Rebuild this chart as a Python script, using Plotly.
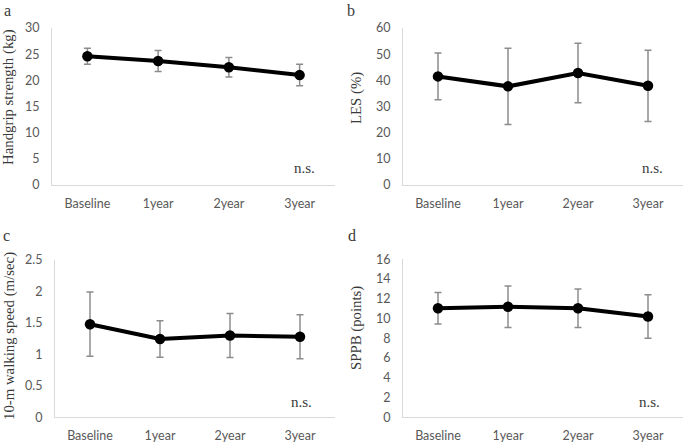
import plotly.graph_objects as go

W, H = 685, 443

categories = ["Baseline", "1year", "2year", "3year"]

grip_mean = [24.6, 23.7, 22.5, 21.0]
grip_sd = [1.55, 2.0, 1.85, 2.05]

les_mean = [41.5, 37.7, 42.8, 37.9]
les_sd = [8.9, 14.6, 11.4, 13.6]

walk_mean = [1.48, 1.245, 1.30, 1.28]
walk_sd = [0.51, 0.29, 0.35, 0.35]

sppb_mean = [11.05, 11.2, 11.05, 10.2]
sppb_sd = [1.6, 2.1, 1.95, 2.2]

panels = [
    dict(mean=grip_mean, sd=grip_sd, title="Handgrip strength (kg)", letter="a",
         rng=[0, 30], dtick=5, xdom=(52, 335), ydom=(28, 185),
         title_pos=(9, 97), letter_pos=(7, 11), ns_pos=(304, 168)),
    dict(mean=les_mean, sd=les_sd, title="LES (%)", letter="b",
         rng=[0, 60], dtick=10, xdom=(403, 683), ydom=(28, 185),
         title_pos=(356, 98), letter_pos=(351, 11), ns_pos=(652, 168)),
    dict(mean=walk_mean, sd=walk_sd, title="10-m walking speed (m/sec)", letter="c",
         rng=[0, 2.5], dtick=0.5, xdom=(55, 335), ydom=(260, 417.3),
         title_pos=(9, 336), letter_pos=(6, 236), ns_pos=(301, 402)),
    dict(mean=sppb_mean, sd=sppb_sd, title="SPPB (points)", letter="d",
         rng=[0, 16], dtick=2, xdom=(403, 683), ydom=(259.3, 417.3),
         title_pos=(356, 328), letter_pos=(352, 236), ns_pos=(649, 402)),
]

tick_font = dict(family="Lato, 'Open Sans', sans-serif", size=12.5, color="#595959")
serif = "'Liberation Serif', 'DejaVu Serif', serif"

fig = go.Figure()
layout = dict(
    width=W, height=H,
    margin=dict(l=0, r=0, t=0, b=0, pad=0, autoexpand=False),
    paper_bgcolor="white", plot_bgcolor="white",
    showlegend=False,
)
annotations = []

for i, p in enumerate(panels, start=1):
    sfx = "" if i == 1 else str(i)
    fig.add_trace(go.Scatter(
        x=categories, y=p["mean"],
        xaxis="x" + sfx, yaxis="y" + sfx,
        mode="lines+markers",
        line=dict(color="#000000", width=4),
        marker=dict(color="#000000", size=10.5),
        error_y=dict(type="data", array=p["sd"], visible=True,
                     color="#8c8c8c", thickness=1.5, width=3.5),
    ))
    x0, x1 = p["xdom"]
    y0, y1 = p["ydom"]
    layout["xaxis" + sfx] = dict(
        domain=[x0 / W, x1 / W], anchor="y" + sfx,
        type="category", range=[-0.5, 3.5], automargin=False,
        showline=True, linecolor="#d9d9d9", linewidth=1,
        showgrid=False, zeroline=False, ticks="", tickfont=tick_font,
        ticklabelstandoff=7, fixedrange=True,
    )
    layout["yaxis" + sfx] = dict(
        domain=[1 - y1 / H, 1 - y0 / H], anchor="x" + sfx,
        range=p["rng"], dtick=p["dtick"], tick0=0, automargin=False,
        showline=True, linecolor="#d9d9d9", linewidth=1,
        showgrid=False, zeroline=False, ticks="", tickfont=tick_font,
        ticklabelstandoff=9, fixedrange=True,
    )
    tx, ty = p["title_pos"]
    annotations.append(dict(
        text=p["title"], x=tx / W, y=1 - ty / H, xref="paper", yref="paper",
        xanchor="center", yanchor="middle", textangle=-90, showarrow=False,
        font=dict(family=serif, size=14.8, color="#3a3a3a"),
    ))
    lx, ly = p["letter_pos"]
    annotations.append(dict(
        text=p["letter"], x=lx / W, y=1 - ly / H, xref="paper", yref="paper",
        xanchor="center", yanchor="middle", showarrow=False,
        font=dict(family=serif, size=16, color="#3a3a3a"),
    ))
    nx, ny = p["ns_pos"]
    annotations.append(dict(
        text="n.s.", x=nx / W, y=1 - ny / H, xref="paper", yref="paper",
        xanchor="center", yanchor="middle", showarrow=False,
        font=dict(family=serif, size=15, color="#3a3a3a"),
    ))

layout["annotations"] = annotations
fig.update_layout(**layout)
fig.write_html(
    "out.html",
    config={"displayModeBar": False},
    post_script="document.body.style.margin='0';document.body.style.overflow='hidden';",
)
